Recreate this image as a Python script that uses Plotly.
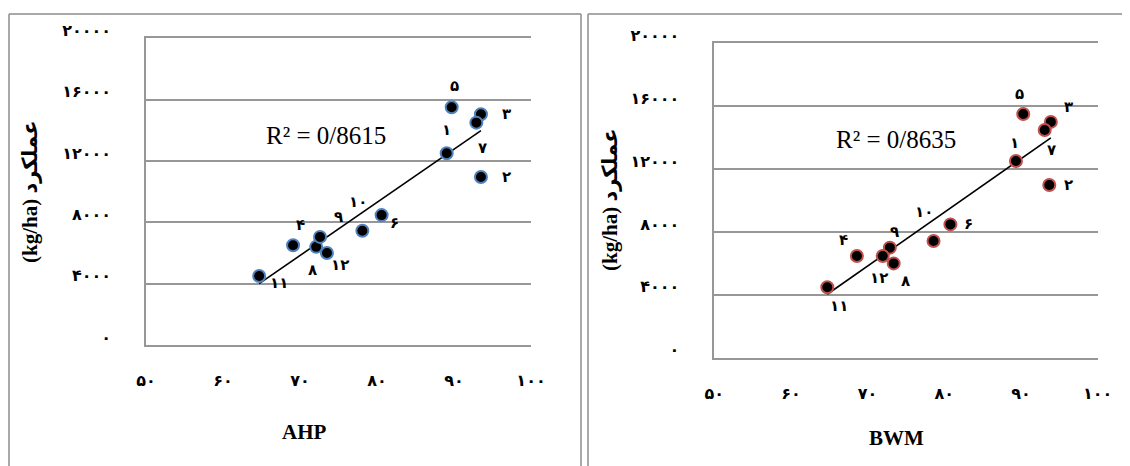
import numpy as np
import plotly.graph_objects as go

# ---- data ----
labels = ["۱", "۲", "۳", "۴", "۵", "۶", "۷", "۸", "۹", "۱۰", "۱۱", "۱۲"]
ahp_score = [89.05, 93.5, 93.5, 69.1, 89.7, 80.6, 92.9, 72.1, 72.6, 78.1, 64.7, 73.5]
ahp_yield = [12500, 10960, 15050, 6500, 15500, 8470, 14500, 6400, 7050, 7450, 4500, 6000]
bwm_score = [89.35, 93.7, 93.9, 68.6, 90.3, 80.8, 93.1, 73.4, 72.9, 78.6, 64.74, 71.97]
bwm_yield = [12510, 10990, 15000, 6470, 15500, 8480, 14480, 6000, 7000, 7420, 4480, 6470]
ahp_r2 = "R² = 0/8615"
bwm_r2 = "R² = 0/8635"
x_ticks = [50, 60, 70, 80, 90, 100]
x_ticktext = ["۵۰", "۶۰", "۷۰", "۸۰", "۹۰", "۱۰۰"]
y_ticks = [0, 4000, 8000, 12000, 16000, 20000]
y_ticktext = ["۰", "۴۰۰۰", "۸۰۰۰", "۱۲۰۰۰", "۱۶۰۰۰", "۲۰۰۰۰"]
y_title = "(kg/ha) عملکرد"

# ---- label pixel offsets (dx right, dy down) ----
ahp_off = [(0, -23), (26, 0), (26, 0), (7, -20), (3, -21), (13, 8), (6, 25),
           (-4, 23), (18, -20), (-4, -29), (20, 7), (13, 12)]
bwm_off = [(-1, -18), (19, 0), (18, -15), (-13, -16), (-4, -20), (18, 0), (7, 20),
           (12, 18), (5, -16), (-10, -29), (12, 19), (-4, 22)]

# page has an 8px body margin: figure is drawn 8px in from the window edge
OFF = 8
W, H = 1130 - OFF, 466 - OFF
def px(v): return (v - OFF) / W
def py(v): return 1 - (v - OFF) / H

GRID = "#979797"
DIGIT_FONT = "DejaVu Sans"
SERIF = "Liberation Serif, DejaVu Serif, DejaVu Sans"

fig = go.Figure()

panels = [
    dict(xs=ahp_score, ys=ahp_yield, off=ahp_off, r2=ahp_r2, title="AHP", edge="#4f81bd",
         xa="x", ya="y", xdom=[px(146), px(531)], ydom=[py(345), py(38.3)],
         r2pos=(73.4, 13680), tpos=(304, 432), ytpos=(30, 192)),
    dict(xs=bwm_score, ys=bwm_yield, off=bwm_off, r2=bwm_r2, title="BWM", edge="#c0504d",
         xa="x2", ya="y2", xdom=[px(714.3), px(1097.6)], ydom=[py(357.7), py(43.3)],
         r2pos=(73.65, 13850), tpos=(896.5, 438), ytpos=(610, 200)),
]

for i, p in enumerate(panels):
    xs = np.array(p["xs"]); ys = np.array(p["ys"])
    slope, icpt = np.polyfit(xs, ys, 1)
    lx = np.array([xs.min(), xs.max()])
    fig.add_trace(go.Scatter(x=lx, y=slope * lx + icpt, mode="lines",
                             line=dict(color="black", width=1.6),
                             xaxis=p["xa"], yaxis=p["ya"], showlegend=False, hoverinfo="skip"))
    fig.add_trace(go.Scatter(x=xs, y=ys, mode="markers",
                             marker=dict(color="black", size=12, line=dict(color=p["edge"], width=2)),
                             xaxis=p["xa"], yaxis=p["ya"], showlegend=False))
    for lab, xv, yv, (dx, dy) in zip(labels, p["xs"], p["ys"], p["off"]):
        fig.add_annotation(x=xv, y=yv, xref=p["xa"], yref=p["ya"], text="<b>%s</b>" % lab,
                           showarrow=False,
                           xshift=dx, yshift=-dy, xanchor="center", yanchor="middle",
                           font=dict(family=DIGIT_FONT, size=15, color="black"))
    fig.add_annotation(x=p["r2pos"][0], y=p["r2pos"][1], xref=p["xa"], yref=p["ya"],
                       text=p["r2"], showarrow=False, xanchor="center", yanchor="middle",
                       font=dict(family=SERIF, size=25, color="black"))
    fig.add_annotation(x=px(p["tpos"][0]), y=py(p["tpos"][1]), xref="paper", yref="paper",
                       text="<b>%s</b>" % p["title"], showarrow=False,
                       xanchor="center", yanchor="middle",
                       font=dict(family=SERIF, size=21, color="black"))
    fig.add_annotation(x=px(p["ytpos"][0]), y=py(p["ytpos"][1]), xref="paper", yref="paper",
                       text="<b>%s</b>" % y_title, showarrow=False, textangle=-90,
                       xanchor="center", yanchor="middle",
                       font=dict(family=SERIF, size=21, color="black"))

    axx = dict(domain=p["xdom"], range=[50, 100], tickvals=x_ticks,
               ticktext=["<b>%s</b>" % t for t in x_ticktext],
               showgrid=False, zeroline=False, showline=True, mirror=True,
               linecolor=GRID, linewidth=1.5, ticks="", automargin=False,
               ticklabelstandoff=20, tickfont=dict(family=DIGIT_FONT, size=16, color="black"),
               anchor=p["ya"])
    axy = dict(domain=p["ydom"], range=[0, 20000], tickvals=y_ticks,
               ticktext=["<b>%s</b>" % t for t in y_ticktext],
               showgrid=True, gridcolor=GRID, gridwidth=1.5, zeroline=False,
               showline=True, linecolor=GRID, linewidth=1.5, ticks="", automargin=False,
               ticklabelstandoff=30, ticklabelshift=-8,
               tickfont=dict(family=DIGIT_FONT, size=16, color="black"),
               anchor=p["xa"])
    if i == 0:
        fig.update_layout(xaxis=axx, yaxis=axy)
    else:
        fig.update_layout(xaxis2=axx, yaxis2=axy)

# panel borders
BORDER = "#8c8c8c"
for x0, x1 in [(9, 581), (588, 1140)]:
    fig.add_shape(type="line", xref="paper", yref="paper", x0=px(x0), x1=px(x1),
                  y0=py(14), y1=py(14), line=dict(color=BORDER, width=1.5))
    fig.add_shape(type="line", xref="paper", yref="paper", x0=px(x0), x1=px(x0),
                  y0=py(14), y1=py(475), line=dict(color=BORDER, width=1.5))
    fig.add_shape(type="line", xref="paper", yref="paper", x0=px(x1), x1=px(x1),
                  y0=py(14), y1=py(475), line=dict(color=BORDER, width=1.5))

fig.update_layout(template="none", width=W, height=H, margin=dict(l=0, r=0, t=0, b=0),
                  paper_bgcolor="white", plot_bgcolor="white")

fig.write_html("out.html")
